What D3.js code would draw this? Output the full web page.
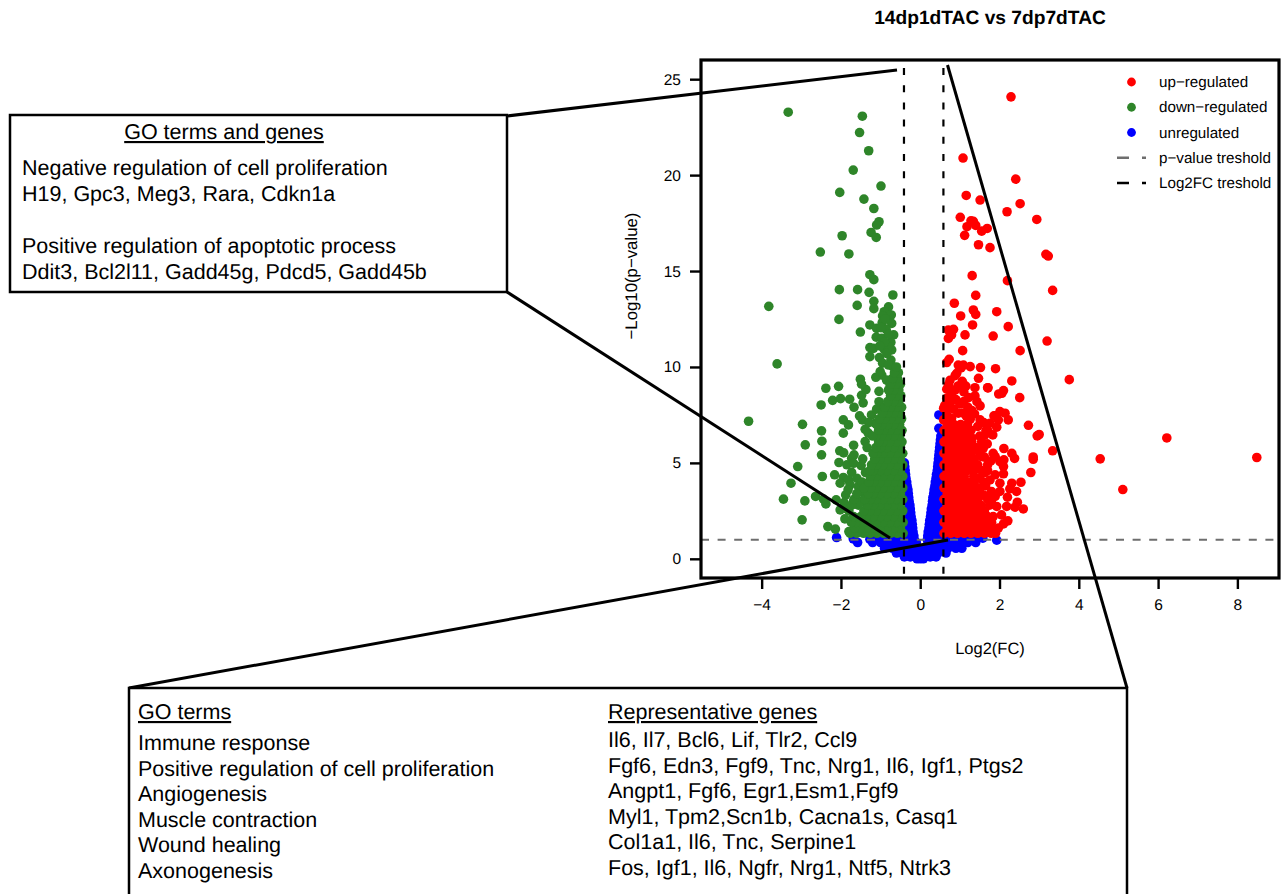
<!DOCTYPE html>
<html>
<head>
<meta charset="utf-8">
<script src="https://cdn.jsdelivr.net/npm/d3@7"></script>
<style>
  html, body { margin: 0; padding: 0; background: #fff; }
  text { font-family: "Liberation Sans", Arial, sans-serif; fill: #000; text-rendering: geometricPrecision; }
</style>
</head>
<body>
<script>
// values: [log2FC, -log10(p)]
var upPoints = [[1.08,20.89],[1.16,18.94],[1.51,18.70],[1.01,17.80],[1.28,17.62],[1.34,17.59],[1.40,17.38],[1.18,17.31],[1.69,17.22],[1.55,17.08],[1.12,16.86],[1.47,16.37],[1.76,16.22],[1.31,14.76],[1.40,13.73],[.86,13.32],[1.34,12.97],[1.40,12.74],[1.02,12.66],[1.93,12.88],
  [2.29,24.08],[2.41,19.79],[2.52,18.51],[2.19,18.09],[2.94,17.69],[3.17,15.87],[3.23,15.78],[2.20,14.50],[3.34,13.99],
  [2.22,12.10],[1.84,11.61],[3.20,11.35],[2.52,10.85],[1.52,9.97],[1.90,9.91],[3.76,9.34],[2.31,9.27],[1.71,8.91],[2.10,8.77],[2.06,8.63],[2.51,8.40],[1.51,7.97],[2.01,7.67],[1.86,7.45],[2.14,7.59],[1.97,7.24],[2.22,7.24],[1.76,7.07],[1.93,6.86],[2.73,6.96],[3.00,6.48],[2.95,6.41],[1.63,6.46],[1.83,6.46],[6.22,6.30],[1.69,5.99],[1.59,5.76],[2.11,5.75],[3.34,5.63],[1.84,5.50],[2.31,5.50],[2.38,5.23],[2.85,5.31],[2.85,5.19],[4.54,5.21],[8.49,5.28],[1.55,5.33],[1.89,5.33],[2.01,5.07],[2.11,5.16],[2.10,4.81],[2.79,4.50],[1.63,4.50],[1.89,4.38],[2.10,4.43],[5.11,3.61],[2.54,3.99],[2.31,3.94],[2.01,3.94],[1.76,4.11],[2.26,3.65],[2.43,3.51],[2.01,3.51],[1.89,3.25],[2.20,3.21],[2.45,2.95],[2.60,2.60],[2.39,2.69],[2.18,2.73],[1.93,2.73],[2.05,2.29],[2.21,1.98],[2.10,1.82],[1.97,1.60],[1.80,1.65],[1.84,2.20],[1.72,1.94],
  [1.32,12.19],[1.13,11.67],[.71,11.93],[.84,11.96],[.79,11.67],[.71,11.49],[.76,11.8],[1.07,10.85],[.67,10.23],[.73,10.40],[.96,10.10],[1.09,10.10],[1.26,10.02],[1.03,9.95],[.92,9.67],[.88,9.55],[1.47,9.41],[1.06,9.25],[.71,9.06],[.67,8.84],[1.38,8.92],[1.70,8.92],[.88,8.80],[.79,8.54],[1.38,8.49],[1.43,8.19],[1.98,8.59],[.67,8.37],[1.00,8.07],[.84,7.80],[1.30,7.73],[.59,7.85],[.67,7.50],[.96,7.59],[1.17,7.41],[1.89,7.45],[.79,7.33],[1.51,7.24],[1.26,7.27],[.59,7.24],[1.08,7.6],[1.37,7.55],[1.6,7.1],[1.7,6.7],[1.45,6.9],[1.3,6.3],[1.55,6.1],[1.4,5.7],[1.62,5.3],[1.7,4.9],[1.78,5.1],[1.5,4.2],[1.7,4.6],[1.65,3.8],[1.8,3.5],[1.62,3.3],[1.8,2.9],
  [.75,8.1],[.9,8.3],[1.1,8.2],[.62,8.0],[.72,7.9],[1.2,7.9],[.75,9.3],[.95,9],[1.1,8.7],[1.22,8.4],[1.15,9.0]];

// crowded part of the up cloud, row by row: [-log10(p), [log2FC...]]
var upBand = [[1.33,[.6,.77,.94,1.11,1.28,1.45,1.62,1.79,1.9]],[1.6,[.68,.85,1.02,1.19,1.36,1.53,1.7]],[1.9,[.6,.77,.94,1.11,1.28,1.45,1.62,1.8]],[2.2,[.68,.85,1.02,1.19,1.36,1.53,1.7]],[2.5,[.6,.77,.94,1.11,1.28,1.45,1.62]],[2.8,[.68,.85,1.02,1.19,1.36,1.53,1.75]],[3.1,[.6,.77,.94,1.11,1.28,1.45,1.7]],[3.4,[.68,.85,1.02,1.19,1.36,1.53]],[3.7,[.6,.77,.94,1.11,1.28,1.45]],[4.0,[.68,.85,1.02,1.19,1.36,1.6]],[4.3,[.6,.77,.94,1.11,1.35]],[4.6,[.68,.85,1.02,1.19,1.36,1.55]],[4.9,[.6,.77,.94,1.11,1.28,1.45]],[5.2,[.68,.85,1.02,1.19,1.36]],[5.5,[.6,.77,.94,1.11,1.28,1.5]],[5.8,[.68,.85,1.02,1.19,1.4]],[6.1,[.6,.77,.94,1.11,1.3]],[6.4,[.68,.85,1.02,1.19,1.5]],[6.7,[.6,.77,.94,1.11,1.28,1.66]],[7.0,[.68,.85,1.02,1.19]]];

var downPoints = [[-3.33,23.28],[-1.46,23.07],[-1.53,22.22],[-1.30,21.27],[-1.69,20.26],[-.99,19.43],[-2.03,19.10],[-1.42,18.75],[-1.17,18.26],[-1.04,17.57],[-1.10,17.40],[-1.24,17.01],[-1.11,16.75],[-1.97,16.84],[-2.52,15.99],[-1.80,15.89],[-1.27,14.81],[-1.17,14.55],[-2.04,14.03],[-1.58,14.03],[-1.29,13.89],[-.69,13.75],[-1.17,13.42],[-1.59,13.21],[-3.82,13.16],[-.80,13.13],[-1.17,13.04],[-.91,12.88],[-.73,12.71],[-.95,12.66],[-2.05,12.48],
  [-1.51,11.82],[-1.27,12.19],[-.96,12.31],[-.72,12.27],[-1.10,12.01],[-.86,11.96],[-.67,11.67],[-1.11,11.55],[-.97,11.49],[-.74,11.28],[-1.27,11.01],[-1.18,10.97],[-.91,10.92],[-.72,10.89],[-.80,11.06],[-1.27,10.54],[-1.03,10.49],[-.74,10.36],[-.69,10.02],[-.64,9.67],[-.56,9.32],[-.97,9.58],[-.85,9.32],[-.76,9.06],[-.59,8.89],[-.88,12.5],[-.99,12.05],[-.8,11.7],[-.9,11.3],[-1.02,11.1],[-.84,10.7],[-.95,10.2],[-.8,10.1],
  [-3.61,10.16],[-4.33,7.17],[-2.97,7.01],[-2.49,6.67],[-2.48,6.13],[-2.90,5.94],[-2.49,5.42],[-3.09,4.81],[-2.47,4.29],[-3.26,3.94],[-3.45,3.11],[-2.91,3.02],[-2.64,3.25],[-2.44,3.11],[-2.38,2.86],[-2.12,3.07],[-2.98,2.03],[-2.33,1.68],[-2.14,1.55],[-1.80,1.42],[-2.38,8.89],[-2.06,8.99],[-2.21,8.26],[-2.01,8.35],[-2.50,8.02],[-1.78,8.32],[-1.67,7.90],[-1.44,8.13],[-1.48,8.52],[-1.37,8.82],[-1.51,9.36],[-1.48,9.10],[-1.12,9.46],[-1.01,9.76],[-1.04,8.73],[-1.53,7.45],[-1.46,7.24],[-1.94,7.24],[-1.81,6.98],[-1.94,6.55],[-1.68,5.92],[-2.03,5.63],[-1.93,5.52],[-1.67,5.42],[-1.73,5.24],[-2.05,5.02],[-1.85,4.90],[-1.45,5.21],[-1.68,4.98],[-1.49,4.86],[-2.16,4.38],[-1.73,4.51],[-1.94,4.24],[-1.81,4.11],[-2.02,3.94],[-1.60,4.20],[-1.77,3.85],[-1.88,3.33],[-1.92,2.93],[-2.02,2.55],[-1.90,2.08],[-1.56,3.77],[-1.43,3.42],[-1.52,2.99],[-1.39,6.11],[-1.31,6.55],[-1.39,6.75],[-1.23,7.50],[-1.14,7.07],[-1.10,7.80],[-1.04,8.19],[-1.34,5.8],[-1.38,4.5],[-1.47,4.0],[-1.82,3.6],[-1.68,3.0],[-1.85,2.6],[-1.3,7.1]];

var downBand = [[1.33,[-.43,-.58,-.75,-.92,-1.09,-1.26,-1.43,-1.6,-1.77]],[1.6,[-.5,-.67,-.84,-1.01,-1.18,-1.35,-1.52,-1.66]],[1.9,[-.43,-.6,-.77,-.94,-1.11,-1.28,-1.45,-1.62,-1.74]],[2.2,[-.5,-.67,-.84,-1.01,-1.18,-1.36,-1.5,-1.68]],[2.5,[-.44,-.6,-.77,-.94,-1.11,-1.27,-1.42,-1.8]],[2.8,[-.5,-.67,-.84,-1.01,-1.18,-1.33,-1.56,-1.73]],[3.1,[-.44,-.6,-.77,-.94,-1.11,-1.26,-1.4,-1.67]],[3.4,[-.5,-.67,-.84,-1.01,-1.18,-1.31,-1.6]],[3.7,[-.44,-.6,-.77,-.94,-1.11,-1.25,-1.42]],[4.0,[-.5,-.67,-.84,-1.01,-1.18,-1.3]],[4.3,[-.44,-.6,-.77,-.94,-1.11,-1.26]],[4.6,[-.5,-.67,-.84,-1.01,-1.18,-1.27]],[4.9,[-.44,-.6,-.77,-.94,-1.1,-1.23]],[5.2,[-.5,-.67,-.84,-1.01,-1.15]],[5.5,[-.44,-.6,-.77,-.94,-1.09,-1.19]],[5.8,[-.5,-.67,-.84,-1,-1.12]],[6.1,[-.46,-.6,-.77,-.94,-1.05]],[6.4,[-.52,-.67,-.84,-.98,-1.12,-1.2]],[6.7,[-.46,-.6,-.77,-.92,-1.05]],[7,[-.52,-.67,-.82,-.97,-1.1]],[7.3,[-.47,-.6,-.75,-.9,-1.03]],[7.6,[-.52,-.67,-.82,-.95]],[7.9,[-.47,-.6,-.75,-.9]],[8.2,[-.54,-.67,-.82]],[8.5,[-.49,-.6,-.75]],[8.8,[-.54,-.67,-.8]],[9.1,[-.5,-.62,-.75]],[9.4,[-.58,-.7]],[9.7,[-.55,-.65]],[10,[-.6]]];

var flatPoints = [[-2.11,1.11],[-1.69,1.04],[-1.58,.85],[-1.27,1.02],[1.93,.97],[1.58,1.08],[.47,7.5],[.47,6.8],
  [-.4,5],[-.39,4.8],[-.41,4.8],[-.38,4.6],[-.37,4.4],[-.41,4.4],[-.36,4.2],[-.34,4],[-.41,4],[-.33,3.8],[-.31,3.6],[-.4,3.6],[-.3,3.4],[-.29,3.2],[-.39,3.2],[-.28,3],[-.26,2.8],[-.36,2.8],[-.25,2.6],[-.24,2.4],[-.34,2.4],[-.42,2.4],[-.23,2.2],[-.21,2],[-.31,2],[-.41,2],[-.2,1.8],[-.19,1.6],[-.29,1.6],[-.39,1.6],[-.18,1.4],[-.16,1.2],[-.26,1.2],[-.36,1.2],[-.15,1],
  [.18,1],[.19,1.2],[.3,1.2],[.42,1.2],[.55,1.2],[.2,1.4],[.22,1.6],[.33,1.6],[.45,1.6],[.56,1.6],[.23,1.8],[.24,2],[.36,2],[.48,2],[.26,2.2],[.27,2.4],[.38,2.4],[.5,2.4],[.28,2.6],[.3,2.8],[.41,2.8],[.52,2.8],[.31,3],[.32,3.2],[.43,3.2],[.54,3.2],[.34,3.4],[.35,3.6],[.46,3.6],[.56,3.6],[.37,3.8],[.38,4],[.48,4],[.4,4.2],[.41,4.4],[.51,4.4],[.43,4.6],[.44,4.8],[.54,4.8],[.45,5],[.46,5.2],[.55,5.2],[.47,5.4],[.48,5.6],[.56,5.6],[.49,5.8],[.5,6],[.51,6.2],[.52,6.4],
  [-1.25,1.15],[-1.05,1.15],[-.85,1.15],[-.65,1.15],[-.45,1.15],[.65,1.15],[.85,1.15],[1.05,1.15],[1.25,1.15],[1.45,1.15],
  [-1.2,.85],[-1,.85],[-.8,.85],[-.6,.85],[-.42,.85],[-.25,.85],[-.1,.85],[.2,.85],[.4,.85],[.6,.85],[.8,.85],[1,.85],[1.2,.85],[1.4,.85],
  [-.9,.55],[-.7,.55],[-.5,.55],[-.33,.55],[-.17,.55],[-.05,.55],[.12,.55],[.3,.55],[.5,.55],[.7,.55],[.9,.55],[1.05,.55],
  [-.6,.3],[-.45,.3],[-.3,.3],[-.15,.3],[0,.3],[.15,.3],[.3,.3],[.45,.3],[.65,.3],[-.4,.1],[-.25,.1],[-.12,.1],[0,.1],[.12,.1],[.25,.1],[.4,.1],[-.08,0],[0,0],[.08,0]];

var xTicks = [-4, -2, 0, 2, 4, 6, 8];
var yTicks = [0, 5, 10, 15, 20, 25];
var pThreshold = 1;
var fcThresholds = [-0.41, 0.585];

var legendDots = [['up\u2212regulated', '#ff0000'], ['down\u2212regulated', '#2e8529'], ['unregulated', '#0000ff']];
var legendLines = [['p\u2212value treshold', '#6e6e6e'], ['Log2FC treshold', '#000']];

var sideTerms = ['Negative regulation of cell proliferation', 'H19, Gpc3, Meg3, Rara, Cdkn1a', '', 'Positive regulation of apoptotic process', 'Ddit3, Bcl2l11, Gadd45g, Pdcd5, Gadd45b'];
var bottomTerms = ['Immune response', 'Positive regulation of cell proliferation', 'Angiogenesis', 'Muscle contraction', 'Wound healing', 'Axonogenesis'];
var bottomGenes = ['Il6, Il7, Bcl6, Lif, Tlr2, Ccl9', 'Fgf6, Edn3, Fgf9, Tnc, Nrg1, Il6, Igf1, Ptgs2', 'Angpt1, Fgf6, Egr1,Esm1,Fgf9', 'Myl1, Tpm2,Scn1b, Cacna1s, Casq1', 'Col1a1, Il6, Tnc, Serpine1', 'Fos, Igf1, Il6, Ngfr, Nrg1, Ntf5, Ntrk3'];

function expand(rows) {
  var out = [];
  rows.forEach(function (r) {
    r[1].forEach(function (x) { out.push([x, r[0]]); });
  });
  return out;
}

var w = 1283, h = 894;
var left = 701, right = 1279, top_ = 60, bottom = 578;

var svg = d3.select('body').append('svg')
  .attr('width', w).attr('height', h)
  .style('display', 'block');

var xScale = d3.scaleLinear().domain([-5.53, 9.05]).range([left, right]);
var yScale = d3.scaleLinear().domain([-1, 26]).range([bottom, top_]);

var xAxis = d3.axisBottom(xScale).tickValues(xTicks).tickSize(11).tickPadding(10)
  .tickFormat(function (d) { return d < 0 ? '\u2212' + Math.abs(d) : d; });
var yAxis = d3.axisLeft(yScale).tickValues(yTicks).tickSize(11).tickPadding(9);

function dots(list, color) {
  svg.append('g').selectAll('circle')
    .data(list).enter().append('circle')
    .attr('cx', function (d) { return xScale(d[0]); })
    .attr('cy', function (d) { return yScale(d[1]); })
    .attr('r', 4.8)
    .attr('fill', color);
}

dots(flatPoints, '#0000ff');
dots(downPoints.concat(expand(downBand)), '#2e8529');
dots(upPoints.concat(expand(upBand)), '#ff0000');

// threshold lines
svg.append('line')
  .attr('x1', left).attr('x2', right)
  .attr('y1', yScale(pThreshold)).attr('y2', yScale(pThreshold))
  .attr('stroke', '#6e6e6e').attr('stroke-width', 2).attr('stroke-dasharray', '8,8.6');
fcThresholds.forEach(function (v) {
  svg.append('line')
    .attr('x1', xScale(v)).attr('x2', xScale(v))
    .attr('y1', 68).attr('y2', bottom)
    .attr('stroke', '#000').attr('stroke-width', 2.2).attr('stroke-dasharray', '7,10.2');
});

// frame and axes
svg.append('rect')
  .attr('x', left).attr('y', top_)
  .attr('width', right - left).attr('height', bottom - top_)
  .attr('fill', 'none').attr('stroke', '#000').attr('stroke-width', 3.2);

var gx = svg.append('g').attr('transform', 'translate(0,' + bottom + ')').call(xAxis);
var gy = svg.append('g').attr('transform', 'translate(' + left + ',0)').call(yAxis);
[gx, gy].forEach(function (g) {
  g.select('.domain').remove();
  g.selectAll('line').attr('stroke', '#000').attr('stroke-width', 2.4);
  g.selectAll('text').style('font-size', '15.5px').style('font-family', '"Liberation Sans"');
});

svg.append('text').attr('x', 990).attr('y', 24).attr('text-anchor', 'middle')
  .style('font-size', '19.2px').style('font-weight', 'bold').text('14dp1dTAC vs 7dp7dTAC');
svg.append('text').attr('x', 990).attr('y', 654).attr('text-anchor', 'middle')
  .style('font-size', '16.5px').text('Log2(FC)');
svg.append('text').attr('transform', 'translate(637,276) rotate(-90)').attr('text-anchor', 'middle')
  .style('font-size', '16.8px').text('\u2212Log10(p\u2212value)');

// legend
var legendY = d3.scalePoint().domain(d3.range(5)).range([82, 183]);
legendDots.forEach(function (d, i) {
  svg.append('circle').attr('cx', 1131.5).attr('cy', legendY(i)).attr('r', 4.4).attr('fill', d[1]);
  svg.append('text').attr('x', 1159).attr('y', legendY(i) + 5).style('font-size', '15.2px').text(d[0]);
});
legendLines.forEach(function (d, i) {
  var yy = legendY(i + 3);
  svg.append('line').attr('x1', 1117).attr('x2', 1146).attr('y1', yy).attr('y2', yy)
    .attr('stroke', d[1]).attr('stroke-width', 2.4).attr('stroke-dasharray', '12,13,4');
  svg.append('text').attr('x', 1159).attr('y', yy + 5).style('font-size', '15.2px').text(d[0]);
});

// callout boxes and their leader lines
var leaders = [[507, 116, 897, 70], [507, 292, 890, 538], [129, 688, 948, 540], [1127, 688, 947.5, 65]];
leaders.forEach(function (l) {
  svg.append('line').attr('x1', l[0]).attr('y1', l[1]).attr('x2', l[2]).attr('y2', l[3])
    .attr('stroke', '#000').attr('stroke-width', 3);
});
svg.append('rect').attr('x', 10).attr('y', 115).attr('width', 497).attr('height', 177)
  .attr('fill', '#fff').attr('stroke', '#000').attr('stroke-width', 2.5);
svg.append('path').attr('d', 'M129,894V688H1127V894')
  .attr('fill', '#fff').attr('stroke', '#000').attr('stroke-width', 2.5);

function label(x, y, s, underline, anchor) {
  svg.append('text').attr('x', x).attr('y', y)
    .attr('text-anchor', anchor || 'start')
    .style('font-size', '21.5px')
    .style('text-decoration', underline ? 'underline' : 'none')
    .text(s);
}
label(224, 139, 'GO terms and genes', true, 'middle');
sideTerms.forEach(function (s, i) { if (s) label(22, 175 + i * 26, s); });
label(138, 719, 'GO terms', true);
label(608, 719, 'Representative genes', true);
bottomTerms.forEach(function (s, i) { label(138, 750 + i * 25.6, s); });
bottomGenes.forEach(function (s, i) { label(608, 747 + i * 25.6, s); });
</script>
</body>
</html>
